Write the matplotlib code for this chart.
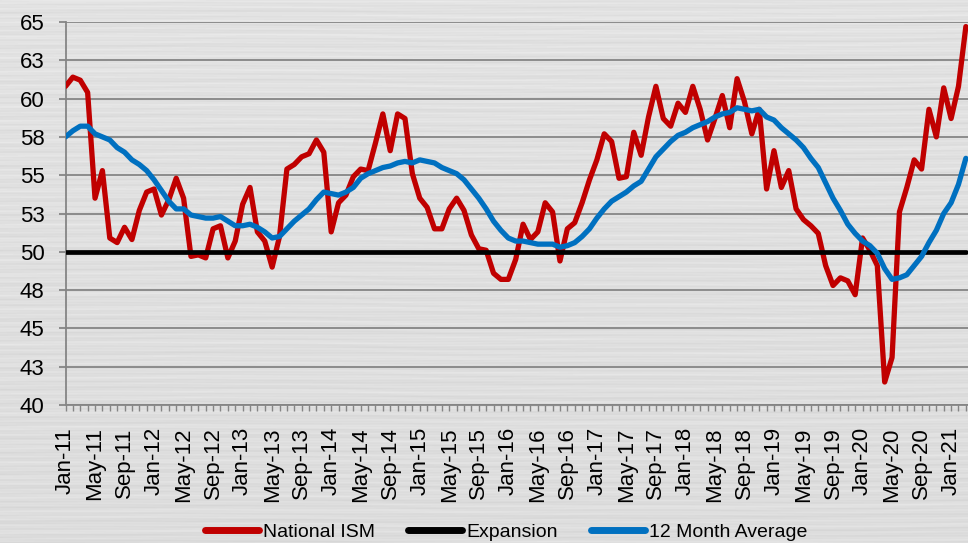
import numpy as np
import matplotlib
matplotlib.use("Agg")
import matplotlib.pyplot as plt

plt.rcParams['font.family'] = ['Liberation Sans', 'DejaVu Sans']

# monthly PMI readings, Jan-11 .. Mar-21
ism = [
    60.8, 61.4, 61.2, 60.4, 53.5, 55.3, 50.9, 50.6, 51.6, 50.8, 52.7, 53.9,
    54.1, 52.4, 53.4, 54.8, 53.5, 49.7, 49.8, 49.6, 51.5, 51.7, 49.6, 50.7,
    53.1, 54.2, 51.3, 50.7, 49.0, 51.0, 55.4, 55.7, 56.2, 56.4, 57.3, 56.5,
    51.3, 53.2, 53.7, 54.9, 55.4, 55.3, 57.1, 59.0, 56.6, 59.0, 58.7, 55.1,
    53.5, 52.9, 51.5, 51.5, 52.8, 53.5, 52.7, 51.1, 50.2, 50.1, 48.6, 48.2,
    48.2, 49.5, 51.8, 50.8, 51.3, 53.2, 52.6, 49.4, 51.5, 51.9, 53.2, 54.7,
    56.0, 57.7, 57.2, 54.8, 54.9, 57.8, 56.3, 58.8, 60.8, 58.7, 58.2, 59.7,
    59.1, 60.8, 59.3, 57.3, 58.7, 60.2, 58.1, 61.3, 59.8, 57.7, 59.3, 54.1,
    56.6, 54.2, 55.3, 52.8, 52.1, 51.7, 51.2, 49.1, 47.8, 48.3, 48.1, 47.2,
    50.9, 50.1, 49.1, 41.5, 43.1, 52.6, 54.2, 56.0, 55.4, 59.3, 57.5, 60.7,
    58.7, 60.8, 64.7,
]

avg12 = [
    57.5, 57.9, 58.2, 58.2, 57.7, 57.5, 57.3, 56.8, 56.5, 56.0, 55.7, 55.3,
    54.7, 54.0, 53.3, 52.8, 52.8, 52.4, 52.3, 52.2, 52.2, 52.3, 52.0, 51.7,
    51.7, 51.8, 51.6, 51.3, 50.9, 51.0, 51.5, 52.0, 52.4, 52.8, 53.4, 53.9,
    53.8, 53.7, 53.9, 54.2, 54.8, 55.1, 55.3, 55.5, 55.6, 55.8, 55.9, 55.8,
    56.0, 55.9, 55.8, 55.5, 55.3, 55.1, 54.7, 54.1, 53.5, 52.8, 52.0, 51.4,
    50.9, 50.7, 50.7, 50.6, 50.5, 50.5, 50.5, 50.3, 50.4, 50.6, 51.0, 51.5,
    52.2, 52.8, 53.3, 53.6, 53.9, 54.3, 54.6, 55.4, 56.2, 56.7, 57.2, 57.6,
    57.8, 58.1, 58.3, 58.5, 58.8, 59.0, 59.1, 59.4, 59.3, 59.2, 59.3, 58.8,
    58.6, 58.1, 57.7, 57.3, 56.8, 56.1, 55.5, 54.5, 53.5, 52.7, 51.8, 51.2,
    50.7, 50.4, 49.9, 48.9, 48.2, 48.3, 48.5, 49.1, 49.7, 50.6, 51.4, 52.5,
    53.2, 54.4, 56.1,
]

expansion_level = 50

month_labels = [
    "Jan-11", "May-11", "Sep-11", "Jan-12", "May-12", "Sep-12",
    "Jan-13", "May-13", "Sep-13", "Jan-14", "May-14", "Sep-14",
    "Jan-15", "May-15", "Sep-15", "Jan-16", "May-16", "Sep-16",
    "Jan-17", "May-17", "Sep-17", "Jan-18", "May-18", "Sep-18",
    "Jan-19", "May-19", "Sep-19", "Jan-20", "May-20", "Sep-20",
    "Jan-21",
]

y_ticks = [40, 42.5, 45, 47.5, 50, 52.5, 55, 57.5, 60, 62.5, 65]
y_labels = ["40", "43", "45", "48", "50", "53", "55", "58", "60", "63", "65"]

W, H = 968, 543
fig = plt.figure(figsize=(W / 100, H / 100), dpi=100)

# brushed-metal backdrop: horizontal streaks that drift slowly across the width
yy = np.arange(H)[:, None].astype(float)
xx = np.arange(W)[None, :].astype(float)
streak = (0.50 * np.sin(yy * 0.90 + 2.0 * np.sin(xx / 140.0))
          + 0.35 * np.sin(yy * 2.30 + 1.7 * np.sin(xx / 90.0 + 1.0))
          + 0.25 * np.sin(yy * 0.37 + xx / 300.0)
          + 0.20 * np.sin(yy * 5.10 + 3.0 * np.sin(xx / 60.0)))
shade = 0.885 + 0.025 * streak - 0.02 * (yy / H)
bg = fig.add_axes([0, 0, 1, 1], zorder=-10)
bg.imshow(np.clip(shade, 0, 1), cmap='gray', vmin=0, vmax=1,
          aspect='auto', interpolation='bilinear')
bg.axis('off')

ax = fig.add_axes([65.5 / W, (H - 405) / H, 1 - 65.5 / W, (405 - 22) / H])
ax.patch.set_alpha(0)

months = np.arange(len(ism))
grid_col = '#858585'

ax.plot(months, ism, color='#C00000', lw=3.8, solid_capstyle='round',
        solid_joinstyle='round', label='National ISM', zorder=3)
ax.plot(months, [expansion_level] * len(months), color='black', lw=3.4,
        solid_capstyle='round', label='Expansion', zorder=4)
ax.plot(months, avg12, color='#0070C0', lw=3.8, solid_capstyle='round',
        solid_joinstyle='round', label='12 Month Average', zorder=5)

ax.set_ylim(40, 65)
ax.set_xlim(0, (W - 65.5) / 7.38)
ax.set_yticks(y_ticks)
ax.set_yticklabels(y_labels)
ax.yaxis.grid(True, color=grid_col, lw=1.3)
ax.set_axisbelow(True)

ax.set_xticks(np.arange(0, len(ism), 4))
ax.set_xticklabels(month_labels, rotation=90, va='top', ha='center')
ax.set_xticks(months, minor=True)

for side in ('top', 'right'):
    ax.spines[side].set_visible(False)
for side in ('left', 'bottom'):
    ax.spines[side].set_color(grid_col)
    ax.spines[side].set_linewidth(1.3)

ax.tick_params(axis='y', length=5, width=1.3, color=grid_col, pad=10,
               labelsize=16, labelcolor='black')
ax.tick_params(axis='x', which='both', length=4, width=1.0, color=grid_col,
               pad=12, labelsize=16, labelcolor='black')

handles, labels = ax.get_legend_handles_labels()
leg = fig.legend(handles, labels, loc='center', ncol=3, frameon=False,
                 bbox_to_anchor=(506 / W, 1 - 532 / H), fontsize=14,
                 handlelength=2.8, handletextpad=0.2, columnspacing=1.7,
                 borderpad=0.1)
for line in leg.get_lines():
    line.set_linewidth(5)

fig.savefig('out.png', dpi=100)
